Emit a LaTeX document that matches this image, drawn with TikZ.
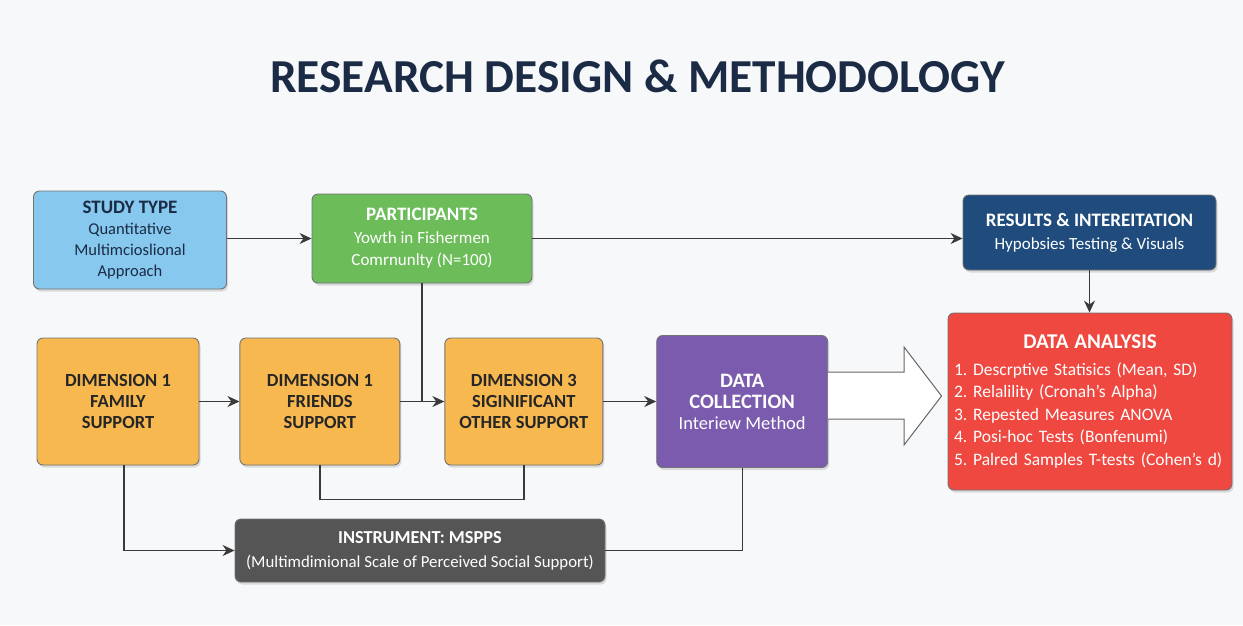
\documentclass[tikz,border=0pt]{standalone}
\usepackage{fontspec}
\setmainfont{Carlito}
\usepackage{tikz}
\frenchspacing
\definecolor{pagebg}{HTML}{F7F8FA}
\definecolor{titlenavy}{HTML}{1B2B45}
\definecolor{studyblue}{HTML}{86C8EE}
\definecolor{partgreen}{HTML}{6CBD5A}
\definecolor{resnavy}{HTML}{1F4C7C}
\definecolor{anared}{HTML}{EE4840}
\definecolor{dimorange}{HTML}{F7B84F}
\definecolor{collpurple}{HTML}{7A5BAE}
\definecolor{instgray}{HTML}{555555}
\definecolor{linegray}{HTML}{3A3A3A}
\newcommand{\headfont}{\fontsize{19}{22}\selectfont\bfseries}
\tikzset{
     arrow/.style={-{Stealth[length=12pt,width=11pt]}},
     link/.style={draw=linegray, line width=1.4pt},
     block/.style={rounded corners=6pt, draw=black!55, line width=0.9pt,
          align=center, inner sep=0pt, font=\fontsize{16.5}{21}\selectfont,
          drop shadow={opacity=0.25, shadow xshift=1.5pt, shadow yshift=-2.5pt}},
     dimbox/.style={block, fill=dimorange, text=black!85,
          minimum width=160pt, minimum height=127pt,
          font=\fontsize{18.5}{21}\selectfont\bfseries}
     }
\usetikzlibrary{positioning,arrows.meta,shadows,calc}

\begin{document}
\begin{tikzpicture}[x=1pt,y=-1pt]
                    % Page and title
                    \fill[pagebg] (0,0) rectangle (1243,625);
                    \useasboundingbox (0,0) rectangle (1243,625);
                    \node[text=titlenavy, font=\fontsize{47.3}{52}\selectfont\bfseries] (title) at (637.5,76) {RESEARCH DESIGN \& METHODOLOGY};
                    % Top row
                    \node[block, fill=studyblue, text=titlenavy, minimum width=193pt, minimum height=98pt] (studyType) at (130,240)
                         {{\headfont STUDY TYPE}\\ Quantitative\\ Multimcioslional\\ Approach};
                    \node[block, fill=partgreen, text=white, minimum width=220pt, minimum height=89pt,
                         font=\fontsize{17}{22.5}\selectfont] (participants) at (422,238.5)
                         {{\headfont PARTICIPANTS}\\ Yowth in Fishermen\\ Comrnunlty (N=100)};
                    \node[block, fill=resnavy, text=white, minimum width=253pt, minimum height=75pt,
                         font=\fontsize{17}{22}\selectfont] (results) at (1089.5,232.5)
                         {{\headfont RESULTS \& INTEREITATION}\\[1pt] Hypobsies Testing \& Visuals};
                    % Middle row
                    \node[dimbox, minimum width=162pt] (dimFamily) at (118,401.5) {DIMENSION 1\\ FAMILY\\ SUPPORT};
                    \node[dimbox, right=40pt of dimFamily] (dimFriends) {DIMENSION 1\\ FRIENDS\\ SUPPORT};
                    \node[dimbox, minimum width=158pt, right=44pt of dimFriends] (dimThree) {DIMENSION 3\\ SIGINIFICANT\\ OTHER SUPPORT};
                    \node[block, fill=collpurple, text=white, minimum width=171pt, minimum height=132pt, right=53pt of dimThree] (coll)
                         {\textbf{\fontsize{20.5}{22}\selectfont DATA}\\ \textbf{\fontsize{20.5}{22}\selectfont COLLECTION}\\ \fontsize{18.5}{21}\selectfont Interiew Method};
                    \node[block, fill=anared, text=white, minimum width=284pt, minimum height=177pt, text width=272pt, align=left,
                         font=\fontsize{17.5}{22.5}\selectfont] (analysis) at (1090,401.5)
                         {\makebox[\linewidth][c]{\bfseries\fontsize{21}{22}\selectfont DATA ANALYSIS}\\[4pt]
                          1. Descrptive Statisics (Mean, SD)\\
                          2. Relalility (Cronah's Alpha)\\
                          3. Repested Measures ANOVA\\
                          4. Posi-hoc Tests (Bonfenumi)\\
                          5. Palred Samples T-tests (Cohen's d)};
                    % Bottom row
                    \node[block, fill=instgray, text=white, minimum width=370pt, minimum height=63pt,
                         font=\fontsize{16.8}{21}\selectfont] (instrument) at (420,550.5)
                         {{\fontsize{18.3}{21}\selectfont\bfseries INSTRUMENT: MSPPS}\\[3pt] (Multimdimional Scale of Perceived Social Support)};
                    % Draw edges
                    \draw[link, arrow] (studyType.east |- participants) -- (participants);
                    \draw[link, arrow] (participants.east) -- (participants.east -| results.west);
                    \draw[link, arrow] (results.south) -- (results.south |- analysis.north);
                    \draw[link, arrow] (dimFamily) -- (dimFriends);
                    \draw[link, arrow] (dimFriends) -- (dimThree);
                    \draw[link, arrow] (dimThree) -- (coll);
                    \draw[link] (participants.south) -- (participants.south |- dimThree.west);
                    \draw[link] (dimFriends.south) -- ++(0,34) -| (dimThree.south);
                    \draw[link, arrow] ([xshift=6pt]dimFamily.south) |- (instrument.west);
                    \draw[link] (coll.south) |- (instrument.east);
                    % Hollow arrow into the analysis box
                    \draw[fill=white, draw=black!60, line width=1pt]
                         (coll.east |- 0,372) -- (904,372) -- (904,347)
                         -- ($(analysis.west |- 0,396)+(-6,0)$)
                         -- (904,445) -- (904,419) -- (coll.east |- 0,419);
                \end{tikzpicture}
\end{document}
